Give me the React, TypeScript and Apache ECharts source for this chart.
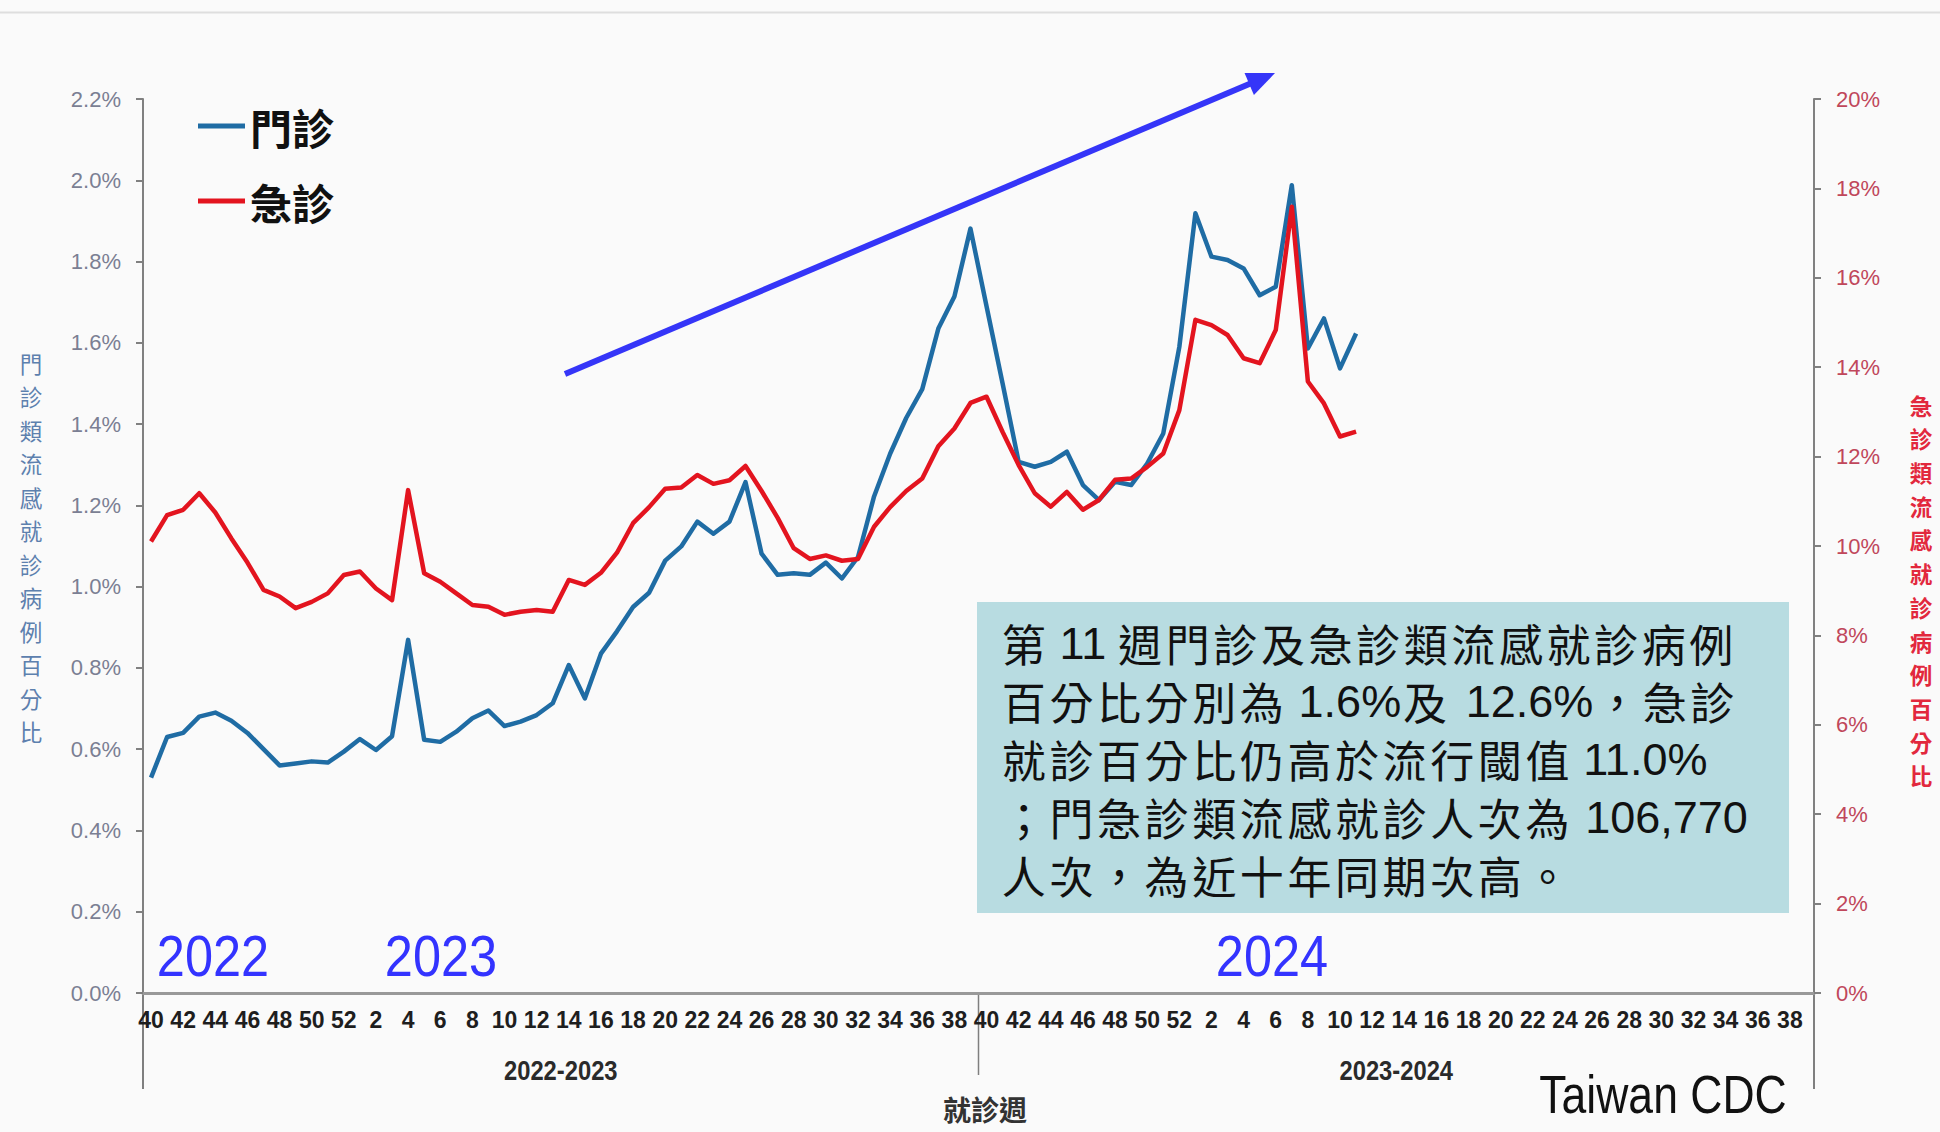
import React, { useEffect, useRef } from "react";
import * as echarts from "echarts";

// ---------- data ----------
const seasonWeeks = [
  "40", "41", "42", "43", "44", "45", "46", "47", "48", "49", "50", "51", "52",
  "1", "2", "3", "4", "5", "6", "7", "8", "9", "10", "11", "12", "13", "14", "15",
  "16", "17", "18", "19", "20", "21", "22", "23", "24", "25", "26", "27", "28", "29",
  "30", "31", "32", "33", "34", "35", "36", "37", "38", "39",
];
const weekCategories = [...seasonWeeks, ...seasonWeeks];
const seasonLabels = ["2022-2023", "2023-2024"];
const yearLabels = ["2022", "2023", "2024"];
const seriesNames = ["門診", "急診"];

// 門診類流感就診病例百分比 (%), 2022 wk40 – 2024 wk11
const outpatientPct = [
  0.53, 0.63, 0.64, 0.68, 0.69, 0.67, 0.64, 0.6, 0.56, 0.565,
  0.57, 0.567, 0.594, 0.625, 0.598, 0.632, 0.869, 0.623, 0.618, 0.643,
  0.676, 0.695, 0.657, 0.668, 0.684, 0.713, 0.807, 0.725, 0.835, 0.89,
  0.95, 0.985, 1.064, 1.099, 1.16, 1.13, 1.16, 1.257, 1.081, 1.029,
  1.033, 1.029, 1.059, 1.02, 1.073, 1.222, 1.327, 1.415, 1.486, 1.635,
  1.714, 1.881, 1.69, 1.5, 1.307, 1.295, 1.307, 1.332, 1.25, 1.213,
  1.258, 1.25, 1.303, 1.377, 1.59, 1.919, 1.812, 1.804, 1.783, 1.717,
  1.738, 1.988, 1.586, 1.66, 1.537, 1.623,
];
// 急診類流感就診病例百分比 (%)
const emergencyPct = [
  10.1, 10.69, 10.81, 11.18, 10.75, 10.17, 9.63, 9.02, 8.87, 8.61,
  8.75, 8.94, 9.35, 9.43, 9.05, 8.79, 11.25, 9.39, 9.2, 8.94,
  8.68, 8.64, 8.46, 8.53, 8.57, 8.53, 9.24, 9.13, 9.4, 9.85,
  10.51, 10.87, 11.28, 11.31, 11.59, 11.39, 11.47, 11.79, 11.23, 10.63,
  9.95, 9.71, 9.79, 9.67, 9.71, 10.43, 10.87, 11.23, 11.51, 12.23,
  12.63, 13.2, 13.34, 12.55, 11.81, 11.18, 10.88, 11.21, 10.81, 11.03,
  11.48, 11.51, 11.77, 12.07, 13.04, 15.06, 14.94, 14.72, 14.2, 14.09,
  14.83, 17.59, 13.68, 13.19, 12.45, 12.56,
];
const leftAxisRange = [0, 2.2, 0.2];
const rightAxisRange = [0, 20, 2];

const leftTitle = "門診類流感就診病例百分比";
const rightTitle = "急診類流感就診病例百分比";
// text box: [kind, text, gapBefore, gapAfter]
const boxLineSegments: [string, string, number?, number?][][] = [
  [["c", "第"], ["n", "11", 12, 10], ["c", "週門診及急診類流感就診病例"]],
  [["c", "百分比分別為"], ["n", "1.6%", 13, 0], ["c", "及"], ["n", "12.6%", 17, 0], ["c", "，急診"]],
  [["c", "就診百分比仍高於流行閾值"], ["n", "11.0%", 12, 0]],
  [["c", "；門急診類流感就診人次為"], ["n", "106,770", 14, 0]],
  [["c", "人次，為近十年同期次高。"]],
];

// ---------- layout ----------
const W = 1940;
const H = 1132;
const GRID = { left: 143, right: 126, top: 99, bottom: 139 };
const FONT_LAT = '"Liberation Sans", Arial, sans-serif';
const FONT_CJK = '"Noto Sans CJK TC", "Noto Sans CJK SC", sans-serif';
const BLUE = "#1f6ca4";
const RED = "#e3141f";

function buildBoxLine(segs: [string, string, number?, number?][]) {
  const rich: Record<string, any> = {
    c: { fontFamily: FONT_CJK, fontSize: 44, width: 47.6, align: "center", fill: "#111", color: "#111" },
  };
  let text = "";
  segs.forEach((seg, k) => {
    const [kind, str, gl, gr] = seg;
    if (kind === "c") {
      text += str
        .split("")
        .map((ch) => `{c|${ch}}`)
        .join("");
    } else {
      const key = "n" + k;
      rich[key] = {
        fontFamily: FONT_LAT,
        fontSize: 45,
        align: "center",
        padding: [0, gr || 0, 0, gl || 0],
        fill: "#111",
        color: "#111",
      };
      text += `{${key}|${str}}`;
    }
  });
  return { text, rich };
}

export default function App() {
  const ref = useRef<HTMLDivElement>(null);

  useEffect(() => {
    document.body.style.margin = "0";
    if (!ref.current) return;
    const chart = echarts.init(ref.current, null, { renderer: "svg" });

    const plotL = GRID.left;
    const plotR = W - GRID.right;
    const plotB = H - GRID.bottom;
    const catW = (plotR - plotL) / weekCategories.length;
    const divX = plotL + seasonWeeks.length * catW;

    // arrow geometry
    const tail = [565, 374];
    const tip = [1275, 73];
    const dx = tip[0] - tail[0];
    const dy = tip[1] - tail[1];
    const len = Math.sqrt(dx * dx + dy * dy);
    const ux = dx / len;
    const uy = dy / len;
    const headL = 28;
    const headW = 12;
    const base = [tip[0] - ux * headL, tip[1] - uy * headL];

    const vertLine = (x: number, y1: number, y2: number, w = 2) => ({
      type: "line",
      shape: { x1: x, y1, x2: x, y2 },
      style: { stroke: "#7f7f7f", lineWidth: w },
      silent: true,
    });

    const boxX = 977;
    const boxY = 602;
    const lineYs = [643, 701, 759, 817, 875];

    const graphic: any[] = [
      {
        type: "line",
        shape: { x1: 0, y1: 12.5, x2: W, y2: 12.5 },
        style: { stroke: "#dedede", lineWidth: 2 },
      },
      vertLine(plotL, plotB, 1089),
      vertLine(divX, plotB, 1075, 1.5),
      vertLine(plotR, plotB, 1089),
      // season labels
      ...[0, 1].map((s) => ({
        type: "text",
        x: plotL + s * seasonWeeks.length * catW + (seasonWeeks.length / 2) * catW,
        y: 1070,
        scaleX: 0.88,
        style: {
          text: seasonLabels[s],
          fontFamily: FONT_LAT,
          fontSize: 27,
          fontWeight: "bold",
          fill: "#2a2a2a",
          align: "center",
          verticalAlign: "middle",
        },
      })),
      {
        type: "text",
        x: 985,
        y: 1109,
        style: {
          text: "就診週",
          fontFamily: FONT_CJK,
          fontSize: 28,
          fontWeight: "bold",
          fill: "#333",
          align: "center",
          verticalAlign: "middle",
        },
      },
      {
        type: "text",
        x: 1663,
        y: 1095,
        scaleX: 0.84,
        style: {
          text: "Taiwan CDC",
          fontFamily: FONT_LAT,
          fontSize: 53,
          fill: "#111",
          align: "center",
          verticalAlign: "middle",
        },
      },
      // axis titles
      {
        type: "text",
        x: 31,
        y: 547,
        style: {
          text: leftTitle.split("").join("\n"),
          fontFamily: FONT_CJK,
          fontSize: 22.5,
          lineHeight: 33.5,
          fill: "#5d80ae",
          align: "center",
          verticalAlign: "middle",
        },
      },
      {
        type: "text",
        x: 1921,
        y: 590,
        style: {
          text: rightTitle.split("").join("\n"),
          fontFamily: FONT_CJK,
          fontSize: 22.5,
          fontWeight: "bold",
          lineHeight: 33.7,
          fill: "#e2283d",
          align: "center",
          verticalAlign: "middle",
        },
      },
      // year labels
      ...[
        [213, yearLabels[0]],
        [441, yearLabels[1]],
        [1272, yearLabels[2]],
      ].map(([x, t]) => ({
        type: "text",
        x: x as number,
        y: 956,
        scaleX: 0.87,
        style: {
          text: t as string,
          fontFamily: FONT_LAT,
          fontSize: 58,
          fill: "#3333ff",
          align: "center",
          verticalAlign: "middle",
        },
      })),
      // arrow
      {
        type: "line",
        shape: { x1: tail[0], y1: tail[1], x2: base[0] + ux * 2, y2: base[1] + uy * 2 },
        style: { stroke: "#3535f8", lineWidth: 6 },
      },
      {
        type: "polygon",
        shape: {
          points: [
            tip,
            [base[0] - uy * headW, base[1] + ux * headW],
            [base[0] + uy * headW, base[1] - ux * headW],
          ],
        },
        style: { fill: "#3535f8" },
      },
      // text box
      {
        type: "rect",
        shape: { x: boxX, y: boxY, width: 812, height: 311 },
        style: { fill: "#b8dce1" },
      },
      ...boxLineSegments.map((segs, i) => {
        const { text, rich } = buildBoxLine(segs);
        return {
          type: "text",
          x: 1000,
          y: lineYs[i],
          style: { text, rich, align: "left", verticalAlign: "middle" },
        };
      }),
    ];

    chart.setOption({
      animation: false,
      backgroundColor: "#fafafa",
      grid: { left: GRID.left, right: GRID.right, top: GRID.top, bottom: GRID.bottom, containLabel: false },
      legend: {
        data: seriesNames,
        orient: "vertical",
        left: 193,
        top: 96,
        icon: "rect",
        itemWidth: 47,
        itemHeight: 5,
        itemGap: 25,
        textStyle: {
          fontFamily: FONT_CJK,
          fontSize: 42,
          fontWeight: "bold",
          color: "#111",
          lineHeight: 50,
        },
      },
      xAxis: {
        type: "category",
        data: weekCategories,
        boundaryGap: true,
        axisLine: { show: true, lineStyle: { color: "#999", width: 3 } },
        axisTick: { show: false },
        axisLabel: {
          interval: 1,
          margin: 15,
          showMinLabel: true,
          hideOverlap: false,
          fontFamily: FONT_LAT,
          fontSize: 23,
          fontWeight: "bold",
          color: "#1e1e1e",
        },
        splitLine: { show: false },
      },
      yAxis: [
        {
          type: "value",
          position: "left",
          min: leftAxisRange[0],
          max: leftAxisRange[1],
          interval: leftAxisRange[2],
          axisLine: { show: true, lineStyle: { color: "#808080", width: 2 } },
          axisTick: { show: true, length: 7, lineStyle: { color: "#808080", width: 2 } },
          axisLabel: {
            margin: 22,
            fontFamily: FONT_LAT,
            fontSize: 22,
            color: "#7b7f93",
            formatter: (v: number) => v.toFixed(1) + "%",
          },
          splitLine: { show: false },
        },
        {
          type: "value",
          position: "right",
          min: rightAxisRange[0],
          max: rightAxisRange[1],
          interval: rightAxisRange[2],
          axisLine: { show: true, lineStyle: { color: "#808080", width: 2 } },
          axisTick: { show: true, length: 7, lineStyle: { color: "#808080", width: 2 } },
          axisLabel: {
            margin: 22,
            fontFamily: FONT_LAT,
            fontSize: 22,
            color: "#c0475b",
            formatter: (v: number) => Math.round(v) + "%",
          },
          splitLine: { show: false },
        },
      ],
      series: [
        {
          name: seriesNames[0],
          type: "line",
          yAxisIndex: 0,
          data: outpatientPct,
          symbol: "none",
          color: BLUE,
          lineStyle: { color: BLUE, width: 4.5, join: "round" },
          z: 3,
        },
        {
          name: seriesNames[1],
          type: "line",
          yAxisIndex: 1,
          data: emergencyPct,
          symbol: "none",
          color: RED,
          lineStyle: { color: RED, width: 4.5, join: "round" },
          z: 4,
        },
      ],
      graphic,
    });

    return () => {
      chart.dispose();
    };
  }, []);

  return <div ref={ref} style={{ width: W, height: H }} />;
}
